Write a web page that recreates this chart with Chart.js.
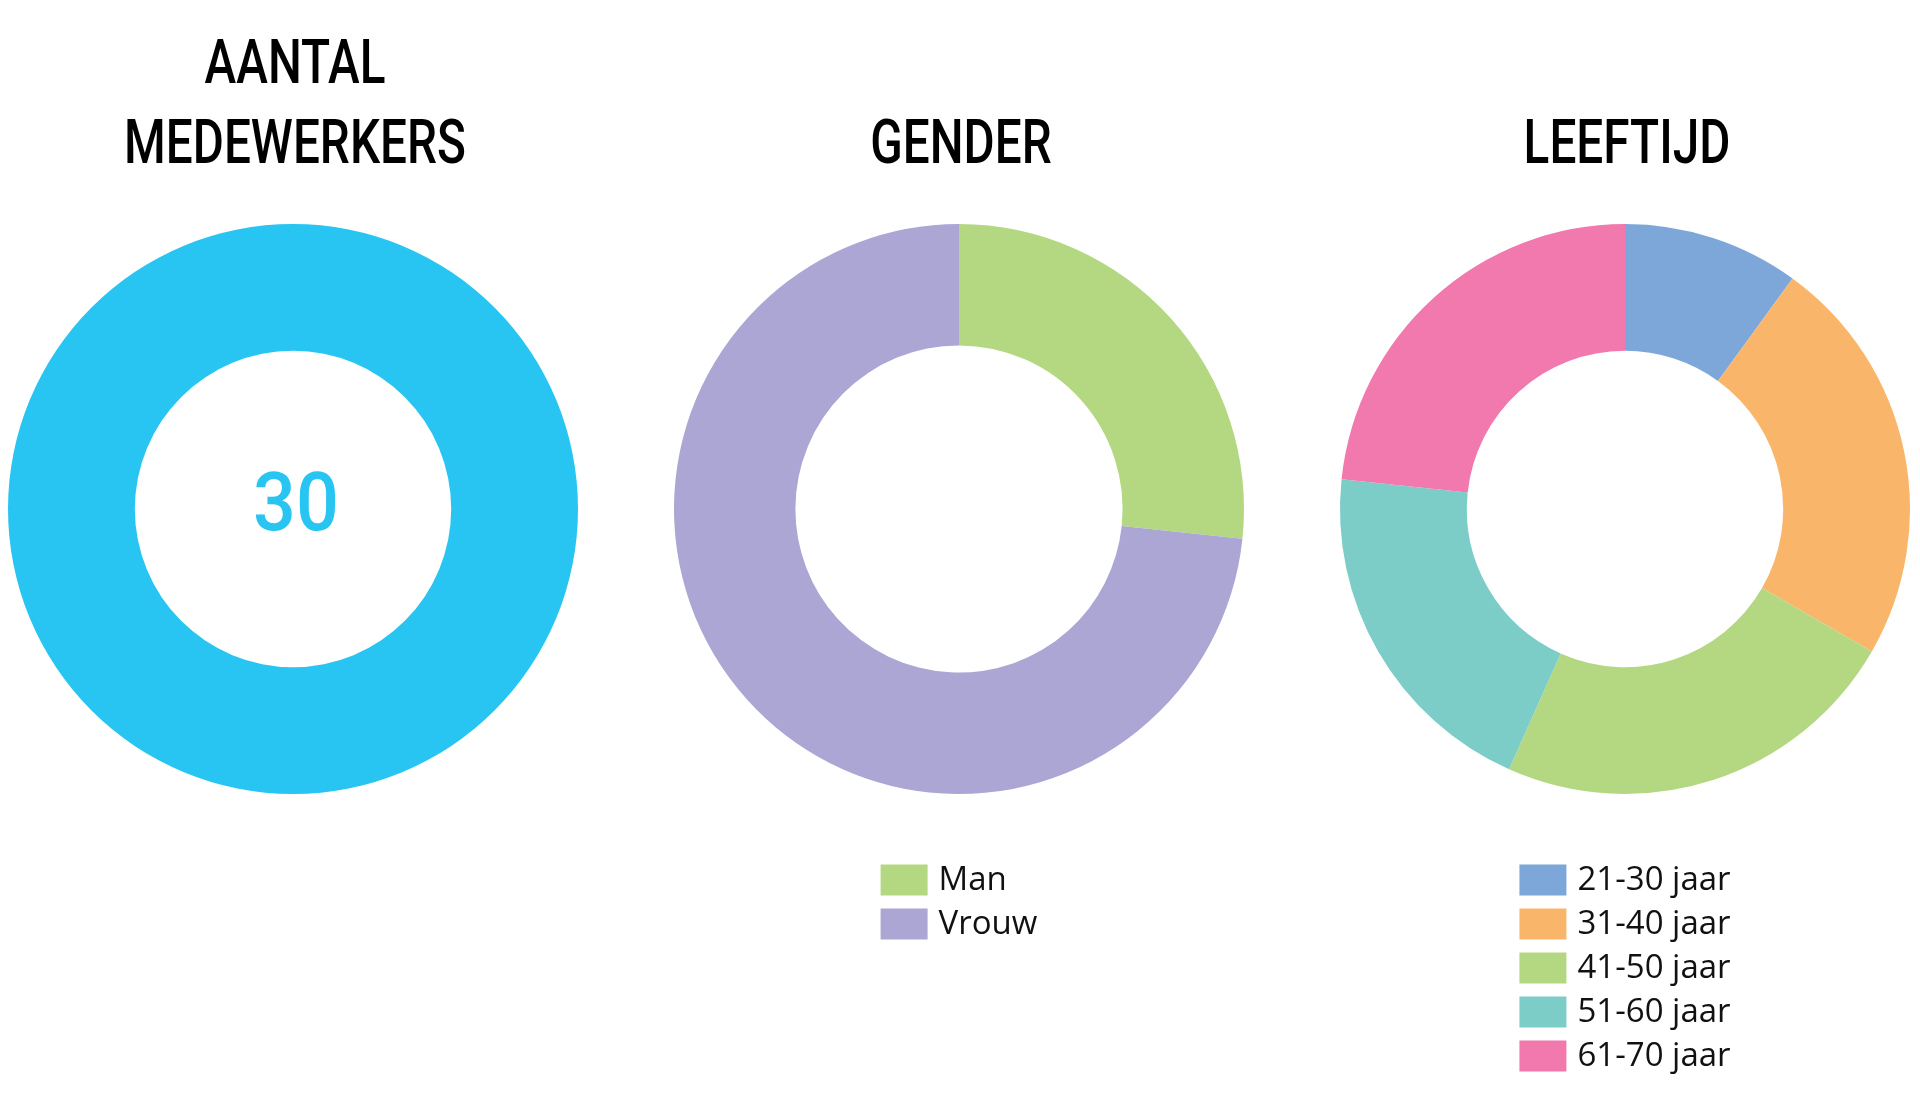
<!DOCTYPE html>
<html lang="nl">
<head>
<meta charset="UTF-8">
<title>Medewerkers</title>
<script src="https://cdn.jsdelivr.net/npm/chart.js"></script>
<style>
  html, body { margin: 0; padding: 0; background: #fff; }
  .dashboard { position: relative; width: 1920px; height: 1113px; overflow: hidden; }
  .dashboard canvas { position: absolute; top: 0; }
</style>
</head>
<body>
<div class="dashboard">
  <canvas id="chart-totaal" width="640" height="1113" style="left:0"></canvas>
  <canvas id="chart-gender" width="640" height="1113" style="left:640px"></canvas>
  <canvas id="chart-leeftijd" width="640" height="1113" style="left:1280px"></canvas>
</div>
<script>
// Gegevens
const totaalLabels = ['Medewerkers'];
const totaalWaarden = [30];

const genderLabels = ['Man', 'Vrouw'];
const genderWaarden = [8, 22];

const leeftijdLabels = ['21-30 jaar', '31-40 jaar', '41-50 jaar', '51-60 jaar', '61-70 jaar'];
const leeftijdWaarden = [3, 7, 7, 6, 7];

const titelTotaal = ['AANTAL', 'MEDEWERKERS'];
const titelGender = ['GENDER'];
const titelLeeftijd = ['LEEFTIJD'];

// Kleuren
const cyaan = '#29c5f2';
const genderKleuren = ['#b4d881', '#aca6d5'];
const leeftijdKleuren = ['#7ca7d8', '#f9b66b', '#b4d881', '#7cccc7', '#f179ad'];

// Titel boven de donut (smal, afgeronde stijl)
const titelPlugin = {
  id: 'titel',
  afterDraw(chart, args, opts) {
    const { ctx, chartArea } = chart;
    const cx = (chartArea.left + chartArea.right) / 2;
    const regels = opts.tekst || [];
    ctx.save();
    ctx.font = '500 62px Roboto';
    ctx.fillStyle = '#000';
    ctx.textAlign = 'center';
    ctx.textBaseline = 'alphabetic';
    regels.forEach((regel, i) => {
      const y = opts.basislijn - (regels.length - 1 - i) * opts.regelAfstand;
      ctx.save();
      ctx.translate(cx + 2, y);
      ctx.scale(opts.smal, 1);
      ctx.fillText(regel, 0, 0);
      ctx.restore();
    });
    ctx.restore();
  }
};

// Totaal in het midden van de donut
const middenPlugin = {
  id: 'midden',
  afterDraw(chart, args, opts) {
    if (!opts.toon) return;
    const { ctx, chartArea } = chart;
    const totaal = chart.data.datasets[0].data.reduce((a, b) => a + b, 0);
    const cx = (chartArea.left + chartArea.right) / 2;
    const cy = (chartArea.top + chartArea.bottom) / 2;
    ctx.save();
    ctx.font = '500 82px Roboto';
    ctx.fillStyle = opts.kleur;
    ctx.textAlign = 'center';
    ctx.textBaseline = 'alphabetic';
    ctx.translate(cx + 3, cy + 21);
    ctx.scale(0.92, 1);
    ctx.fillText(String(totaal), 0, 0);
    ctx.restore();
  }
};

// Legenda onder de donut, items onder elkaar
const legendaPlugin = {
  id: 'legenda',
  afterDraw(chart, args, opts) {
    if (!opts.toon) return;
    const { ctx, chartArea } = chart;
    const labels = chart.data.labels;
    const kleuren = chart.data.datasets[0].backgroundColor;
    const cx = (chartArea.left + chartArea.right) / 2;
    const boxW = 47, boxH = 31, gap = 11, rij = 44;
    ctx.save();
    ctx.font = '33px "Open Sans"';
    const maxTekst = Math.max(...labels.map(l => ctx.measureText(l).width));
    const x0 = cx - (boxW + gap + maxTekst) / 2;
    ctx.textAlign = 'left';
    ctx.textBaseline = 'middle';
    labels.forEach((label, i) => {
      const y = opts.start + i * rij;
      ctx.fillStyle = kleuren[i];
      ctx.fillRect(x0, y - boxH / 2, boxW, boxH);
      ctx.fillStyle = '#111';
      ctx.fillText(label, x0 + boxW + gap, y + 1);
    });
    ctx.restore();
  }
};

function maakDonut(id, labels, waarden, kleuren, opties) {
  return new Chart(document.getElementById(id), {
    type: 'doughnut',
    data: {
      labels: labels,
      datasets: [{
        data: waarden,
        backgroundColor: kleuren,
        borderWidth: 0
      }]
    },
    options: {
      responsive: false,
      animation: false,
      cutout: opties.cutout,
      layout: { padding: opties.padding },
      plugins: {
        legend: { display: false },
        tooltip: { enabled: false },
        titel: { tekst: opties.titel, basislijn: 163, regelAfstand: 80, smal: 0.77 },
        midden: { toon: !!opties.midden, kleur: cyaan },
        legenda: { toon: !!opties.legenda, start: 880 }
      }
    },
    plugins: [titelPlugin, middenPlugin, legendaPlugin]
  });
}

document.addEventListener('DOMContentLoaded', function() {
  // donut gebied 570x570, midden op y = 509
  maakDonut('chart-totaal', totaalLabels, totaalWaarden, [cyaan], {
    cutout: '55.5%',
    titel: titelTotaal,
    midden: true,
    padding: { left: 8, right: 62, top: 224, bottom: 319 }
  });

  maakDonut('chart-gender', genderLabels, genderWaarden, genderKleuren, {
    cutout: '57.4%',
    titel: titelGender,
    legenda: true,
    padding: { left: 34, right: 36, top: 224, bottom: 319 }
  });

  maakDonut('chart-leeftijd', leeftijdLabels, leeftijdWaarden, leeftijdKleuren, {
    cutout: '55.5%',
    titel: titelLeeftijd,
    legenda: true,
    padding: { left: 60, right: 10, top: 224, bottom: 319 }
  });
});
</script>
</body>
</html>
